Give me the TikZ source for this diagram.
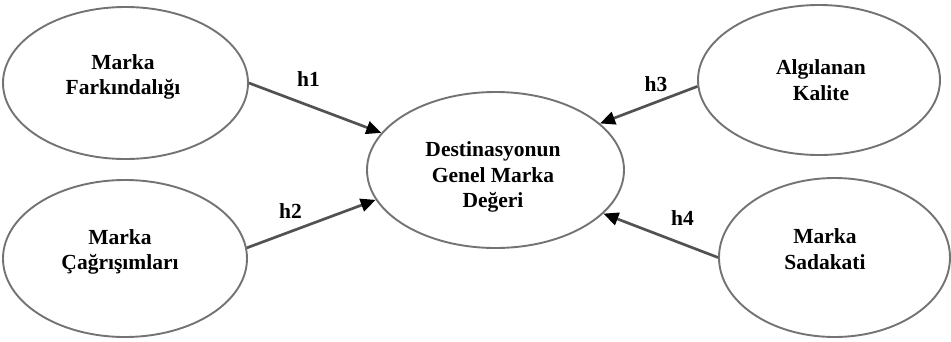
\documentclass[tikz,border=0pt]{standalone}
\usepackage{fontspec}
\setmainfont{Liberation Serif}
\usetikzlibrary{shapes.geometric,arrows.meta}

\begin{document}
\begin{tikzpicture}[x=1pt,y=-1pt,
  yapi/.style={ellipse,draw=black!55,line width=1.9pt,inner sep=0pt},
  yazi/.style={align=center,inner sep=0pt,font=\bfseries\fontsize{21.5}{25.7}\selectfont},
  ok/.style={draw=black!68,line width=2.7pt,-{Triangle[length=15pt,width=13pt,black]}}]
\useasboundingbox (0,0) rectangle (951,341);
\node[yapi,minimum width=245pt,minimum height=152pt] (mf) at (125.5,83) {};
\node[yapi,minimum width=244pt,minimum height=157pt] (mc) at (125,258.5) {};
\node[yapi,minimum width=257pt,minimum height=156pt] (dmd) at (495.5,170) {};
\node[yapi,minimum width=242pt,minimum height=150pt] (ak) at (819,80) {};
\node[yapi,minimum width=231pt,minimum height=159pt] (ms) at (834.5,257.5) {};
\node[yazi] (mf-t) at (123,77) {Marka\\Farkındalığı};
\node[yazi] (mc-t) at (120,252) {Marka\\Çağrışımları};
\node[yazi] (dmd-t) at (493,177) {Destinasyonun\\Genel Marka\\Değeri};
\node[yazi] (ak-t) at (821,80) {Algılanan\\Kalite};
\node[yazi] (ms-t) at (825,249) {Marka\\Sadakati};
\draw[ok] (mf.east) -- (dmd.162);
\draw[ok] (mc.5) -- (dmd.194);
\draw[ok] (ak.183) -- (dmd.24);
\draw[ok] (ms.west) -- (dmd.-22);
\node[yazi] (h1) at (308.5,79.5) {h1};
\node[yazi] (h2) at (290.5,211) {h2};
\node[yazi] (h3) at (656,84.5) {h3};
\node[yazi] (h4) at (682.5,218) {h4};
\end{tikzpicture}
\end{document}
